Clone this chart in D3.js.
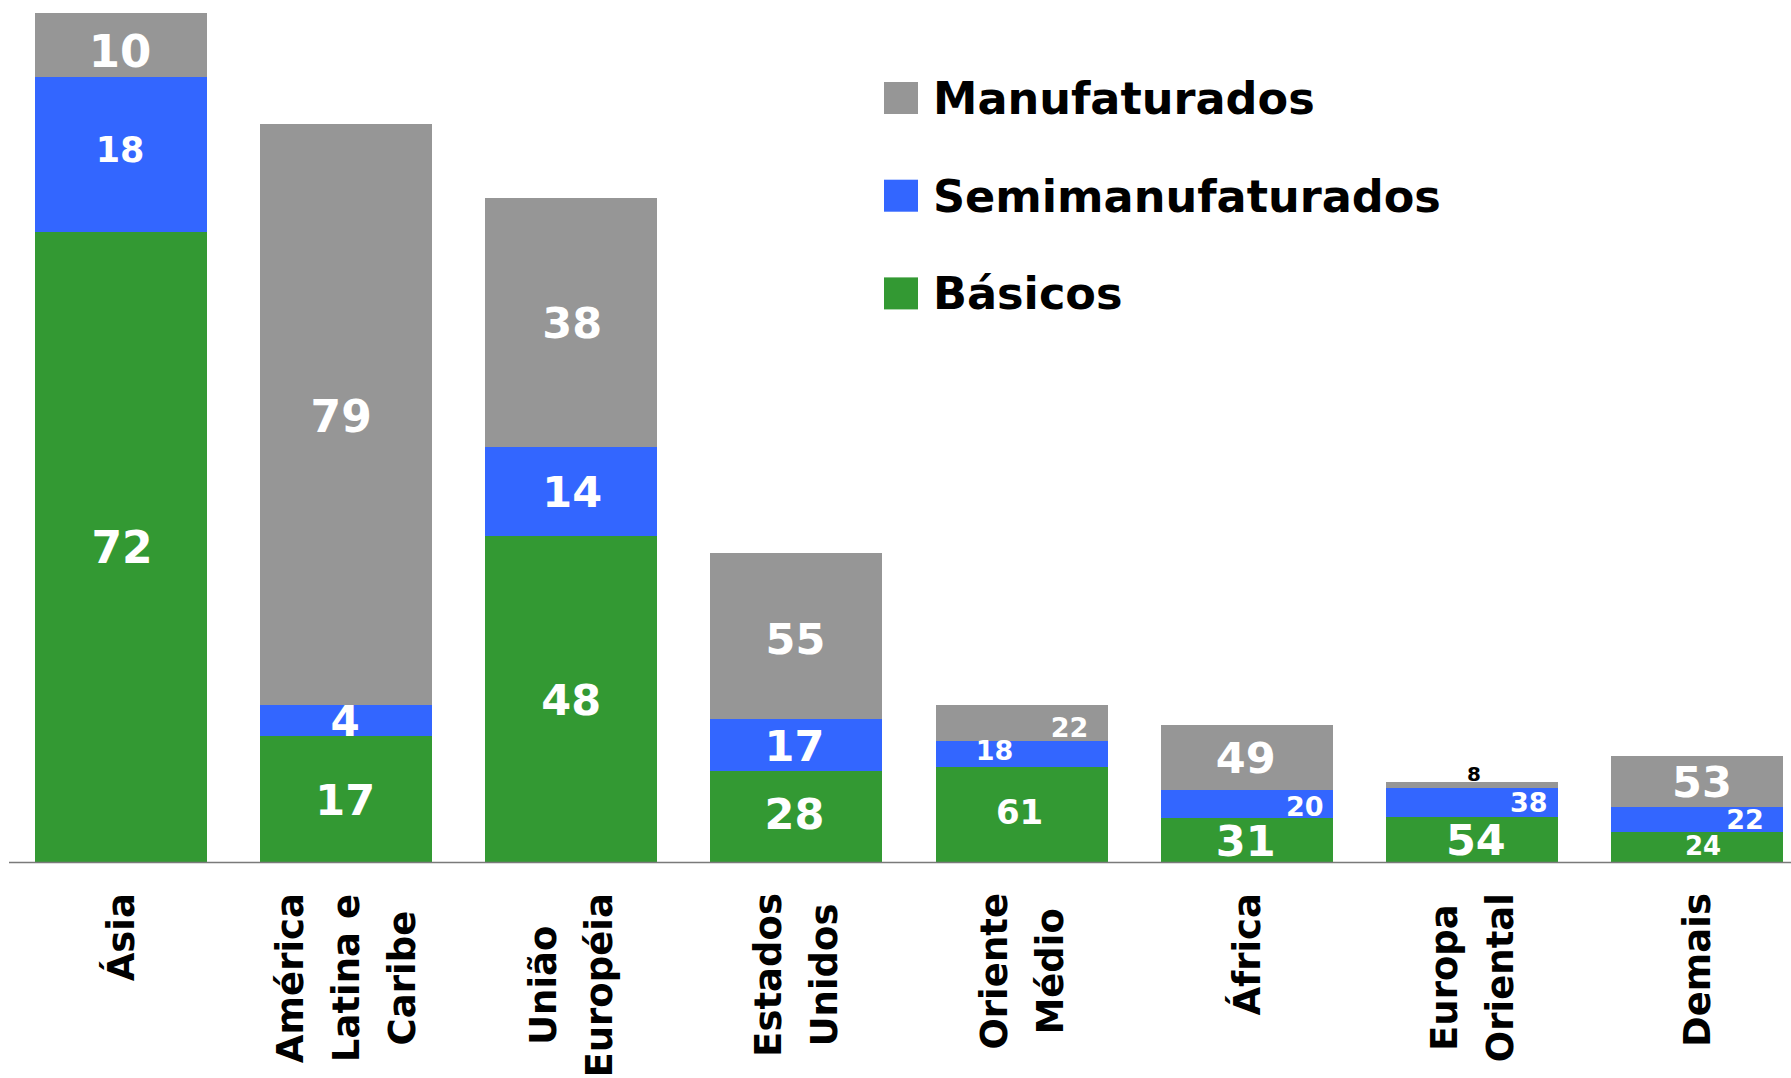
<!DOCTYPE html>
<html>
<head>
<meta charset="utf-8">
<script src="https://cdn.jsdelivr.net/npm/d3@7"></script>
<style>
  html, body { margin: 0; padding: 0; background: #fff; }
  svg { display: block; }
</style>
</head>
<body>
<svg id="chart" width="1791" height="1078"></svg>
<script>
// ---------- DATA ----------
const categories = ["Ásia", "América Latina e Caribe", "União Européia", "Estados Unidos",
                    "Oriente Médio", "África", "Europa Oriental", "Demais"];
const categoryLines = [["Ásia"], ["América", "Latina e", "Caribe"], ["União", "Européia"],
                       ["Estados", "Unidos"], ["Oriente", "Médio"], ["África"],
                       ["Europa", "Oriental"], ["Demais"]];
// segment sizes (bar heights)
const basicos = [63.0, 12.6, 32.6, 9.1, 9.5, 4.4, 4.5, 3.0];
const semimanufaturados = [15.5, 3.1, 8.9, 5.2, 2.6, 2.8, 2.9, 2.5];
const manufaturados = [6.4, 58.1, 24.9, 16.6, 3.6, 6.5, 0.6, 5.1];
// share labels (%) shown on the segments
const basicosPct = [72, 17, 48, 28, 61, 31, 54, 24];
const semimanufaturadosPct = [18, 4, 14, 17, 18, 20, 38, 22];
const manufaturadosPct = [10, 79, 38, 55, 22, 49, 8, 53];
const legendLabels = ["Manufaturados", "Semimanufaturados", "Básicos"];

// ---------- STYLE ----------
const colors = { basicos: "#339933", semi: "#3366FF", manuf: "#969696" };
const labelStyle = {
  basicos: { size: [44, 43, 43, 43, 34, 43, 43, 26], dx: [1, -1, 0, -2, -2, -1, 4, 6], dy: [0, 0, 0, -3, -3, 0, 0, -1] },
  semi:    { size: [35, 42, 43, 43, 27, 27, 27, 27], dx: [-1, -1, 1, -2, -27, 58, 57, 48], dy: [-5, 0, 0, 0, -4, 2, 0, 0] },
  manuf:   { size: [45, 44, 43, 43, 27, 43, 20, 43], dx: [-1, -5, 1, -1, 48, -1, 2, 5], dy: [6, 1, 0, 2, 4, 0, 0, 0],
             above: [false, false, false, false, false, false, true, false] }
};

const svg = d3.select("#chart");
const baseY = 862;

const x = d3.scaleBand().domain(categories).range([35, 1783]).paddingInner(0.236).paddingOuter(0);
const y = d3.scaleLinear().domain([0, 90]).range([baseY, baseY - 900]);

const rows = categories.map((c, i) => ({
  cat: c, basicos: basicos[i], semi: semimanufaturados[i], manuf: manufaturados[i]
}));
const pcts = { basicos: basicosPct, semi: semimanufaturadosPct, manuf: manufaturadosPct };
const keys = ["basicos", "semi", "manuf"];
const stacked = d3.stack().keys(keys)(rows);

// bars
const layers = svg.append("g").selectAll("g").data(stacked).join("g")
  .attr("fill", d => colors[d.key]);
layers.selectAll("rect").data(d => d).join("rect")
  .attr("x", d => x(d.data.cat))
  .attr("width", x.bandwidth())
  .attr("y", d => y(d[1]))
  .attr("height", d => y(d[0]) - y(d[1]))
  .attr("shape-rendering", "crispEdges");

// axis baseline
svg.append("line")
  .attr("x1", 9).attr("x2", 1791)
  .attr("y1", baseY + 0.5).attr("y2", baseY + 0.5)
  .attr("stroke", "#7a7a7a").attr("stroke-width", 1.6);

// segment labels
stacked.forEach(layer => {
  const key = layer.key;
  const st = labelStyle[key];
  layer.forEach((d, i) => {
    const size = st.size[i];
    const cx = x(d.data.cat) + x.bandwidth() / 2 + st.dx[i];
    let ty, fill = "#fff";
    if (st.above && st.above[i]) {
      ty = y(d[1]) - 1;
      fill = "#000";
    } else {
      const mid = (y(d[0]) + y(d[1])) / 2;
      ty = mid + 0.3645 * size + st.dy[i];
    }
    svg.append("text")
      .attr("x", cx).attr("y", ty)
      .attr("text-anchor", "middle")
      .attr("font-family", "DejaVu Sans, Verdana, sans-serif")
      .attr("font-weight", "bold")
      .attr("font-size", size)
      .attr("fill", fill)
      .text(pcts[key][i]);
  });
});

// category labels (rotated)
const catFont = 37, lineStep = 56, topEnd = 893;
categories.forEach((c, ci) => {
  const lines = categoryLines[ci];
  const cx = x(c) + x.bandwidth() / 2;
  const g = svg.append("g");
  const texts = lines.map(t => g.append("text")
    .attr("font-family", "DejaVu Sans, Verdana, sans-serif")
    .attr("font-weight", "bold")
    .attr("font-size", catFont)
    .attr("text-anchor", "middle")
    .attr("fill", "#000")
    .text(t));
  const maxLen = d3.max(texts, t => t.node().getComputedTextLength());
  const yc = topEnd + maxLen / 2;
  const n = lines.length;
  texts.forEach((t, i) => {
    const bx = cx + (i - (n - 1) / 2) * lineStep + 13;
    t.attr("transform", `translate(${bx},${yc}) rotate(-90)`);
  });
});

// legend
const legendColors = [colors.manuf, colors.semi, colors.basicos];
const legend = svg.append("g").selectAll("g").data(legendLabels).join("g")
  .attr("transform", (d, i) => `translate(884, ${82 + i * 97.7})`);
legend.append("rect").attr("width", 34).attr("height", 32)
  .attr("fill", (d, i) => legendColors[i]);
legend.append("text")
  .attr("x", 49).attr("y", 32)
  .attr("font-family", "DejaVu Sans, Verdana, sans-serif")
  .attr("font-weight", "bold")
  .attr("font-size", 44.6)
  .attr("fill", "#000")
  .text(d => d);
</script>
</body>
</html>
